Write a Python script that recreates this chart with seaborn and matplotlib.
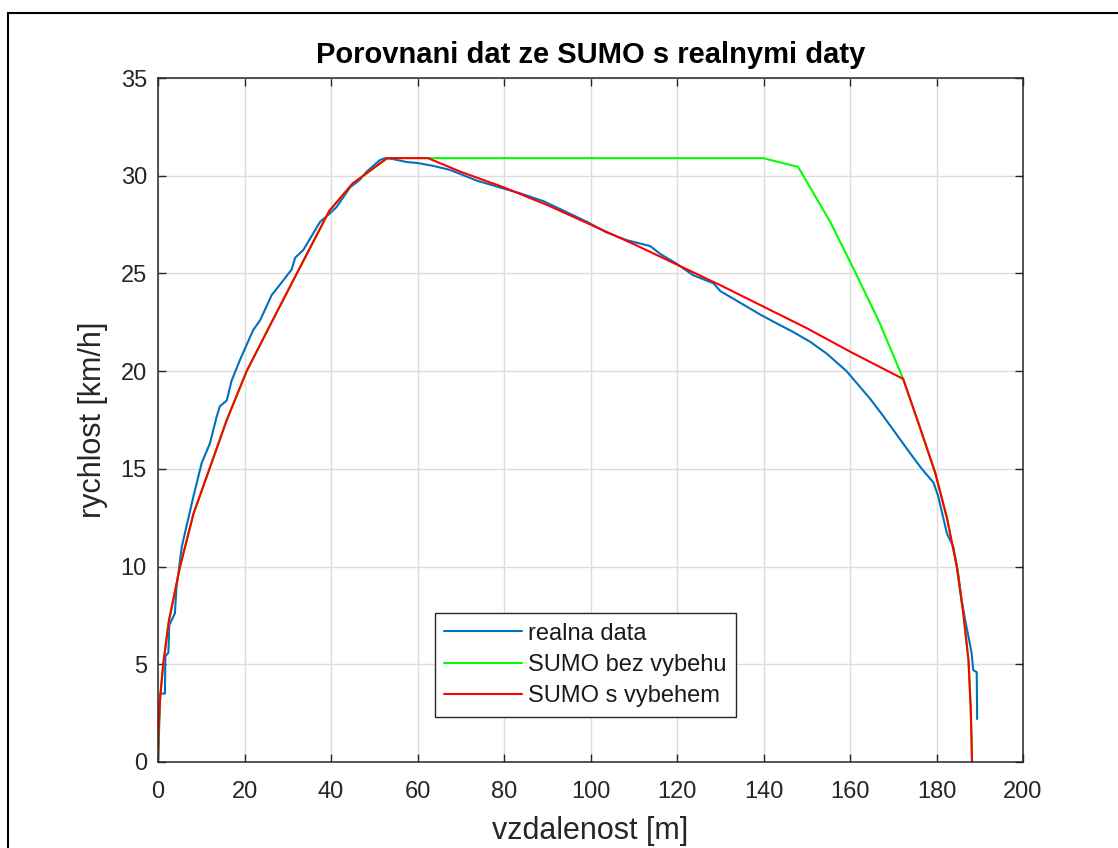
import numpy as np
import pandas as pd
import matplotlib
matplotlib.use("Agg")
import matplotlib.pyplot as plt
from matplotlib.patches import Rectangle
import seaborn as sns

# ---------------- data ----------------
realna_x = [0.0, 0.3, 0.5, 1.6, 1.7, 2.4, 2.6, 3.9, 4.3, 5.5, 5.9, 8.2, 10.1, 12.0, 13.6, 14.3,
            15.9, 17.0, 19.0, 22.0, 23.6, 26.3, 27.4, 30.9, 31.7, 33.6, 37.5, 39.4, 41.3, 44.4,
            46.7, 48.2, 51.3, 52.5, 54.4, 57.5, 60.0, 63.7, 67.5, 73.7, 79.8, 83.7, 89.1, 92.9,
            99.1, 103.7, 108.4, 113.8, 116.1, 119.9, 123.8, 128.4, 130.0, 134.6, 139.2, 143.0,
            146.9, 150.8, 154.6, 159.2, 164.6, 167.7, 173.9, 176.6, 179.3, 180.4, 182.4, 183.9,
            185.0, 185.8, 186.6, 187.4, 188.1, 188.5, 189.3, 189.4]
realna_y = [0.0, 2.0, 3.5, 3.5, 5.4, 5.6, 7.0, 7.6, 9.0, 11.0, 11.4, 13.6, 15.3, 16.3, 17.7, 18.2,
            18.5, 19.5, 20.6, 22.1, 22.6, 23.9, 24.2, 25.2, 25.8, 26.2, 27.65, 28.0, 28.4, 29.4,
            29.8, 30.2, 30.8, 30.9, 30.85, 30.7, 30.65, 30.5, 30.3, 29.75, 29.35, 29.1, 28.7, 28.3,
            27.65, 27.1, 26.7, 26.4, 26.0, 25.5, 24.9, 24.5, 24.1, 23.5, 22.9, 22.45,
            22.0, 21.5, 20.9, 20.0, 18.6, 17.7, 15.8, 15.0, 14.3, 13.6, 11.7, 11.0,
            9.65, 8.3, 7.3, 6.4, 5.6, 4.7, 4.6, 2.2]

bez_x = [0.0, 0.2, 0.5, 1.2, 2.5, 5.1, 8.2, 11.9, 15.9, 20.5, 26.5, 32.1, 39.6, 45.0, 53.0,
         62.4, 80.0, 100.0, 120.0, 139.9, 148.0, 155.4, 160.9, 166.9, 172.3,
         176.2, 179.7, 182.4, 184.7, 186.2, 187.4, 187.9, 188.1, 188.2]
bez_y = [0.0, 2.0, 3.3, 5.0, 7.2, 10.0, 12.7, 15.0, 17.5, 20.0, 22.6, 25.0, 28.2, 29.6, 30.9,
         30.9, 30.9, 30.9, 30.9, 30.9, 30.45, 27.65, 25.2, 22.45, 19.6,
         17.1, 14.8, 12.5, 10.0, 7.6, 5.2, 2.8, 1.2, 0.0]

vyb_x = [0.0, 0.2, 0.5, 1.2, 2.5, 5.1, 8.2, 11.9, 15.9, 20.5, 26.5, 32.1, 39.6, 45.0, 53.0,
         62.4, 70.0, 80.0, 90.0, 100.0, 110.0, 120.0, 130.0, 140.0, 150.0, 160.0, 172.3,
         176.2, 179.7, 182.4, 184.7, 186.2, 187.4, 187.9, 188.1, 188.2]
vyb_y = [0.0, 2.0, 3.3, 5.0, 7.2, 10.0, 12.7, 15.0, 17.5, 20.0, 22.6, 25.0, 28.2, 29.6, 30.9,
         30.9, 30.2, 29.4, 28.5, 27.5, 26.5, 25.45, 24.4, 23.3, 22.2, 21.0, 19.6,
         17.1, 14.8, 12.5, 10.0, 7.6, 5.2, 2.8, 1.2, 0.0]

labels = ["realna data", "SUMO bez vybehu", "SUMO s vybehem"]
colors = ["#0072BD", "#00FF00", "#FF0000"]
x_ticks = [0, 20, 40, 60, 80, 100, 120, 140, 160, 180, 200]
y_ticks = [0, 5, 10, 15, 20, 25, 30, 35]

df = pd.concat([
    pd.DataFrame({"x": realna_x, "y": realna_y, "serie": labels[0]}),
    pd.DataFrame({"x": bez_x, "y": bez_y, "serie": labels[1]}),
    pd.DataFrame({"x": vyb_x, "y": vyb_y, "serie": labels[2]}),
], ignore_index=True)

# ---------------- style ----------------
sns.set_theme(style="whitegrid")
plt.rcParams["font.family"] = ["Liberation Sans", "DejaVu Sans"]
axcol = "#262626"

fig = plt.figure(figsize=(11.18, 8.48), dpi=100)
fig.patch.set_facecolor("white")
ax = fig.add_axes([158 / 1118, 1 - 762 / 848, 865 / 1118, 684 / 848])

sns.lineplot(data=df, x="x", y="y", hue="serie", palette=dict(zip(labels, colors)),
             hue_order=labels, estimator=None, sort=False, linewidth=1.5, ax=ax)

ax.set_xlim(0, 200)
ax.set_ylim(0, 35)
ax.set_xticks(x_ticks)
ax.set_yticks(y_ticks)
ax.grid(True, color="#dcdcdc", linewidth=1.0)
ax.set_axisbelow(True)
for s in ax.spines.values():
    s.set_visible(True)
    s.set_color(axcol)
    s.set_linewidth(1.1)
ax.tick_params(axis="both", which="both", direction="in", length=6, width=1.0,
               colors=axcol, labelsize=17, top=True, right=True,
               bottom=True, left=True)
ax.tick_params(axis="x", pad=14)
ax.tick_params(axis="y", pad=8)

ax.set_title("Porovnani dat ze SUMO s realnymi daty", fontsize=21, fontweight="bold",
             color="black", pad=11)
ax.set_xlabel("vzdalenost [m]", fontsize=22, color=axcol, labelpad=9)
ax.set_ylabel("rychlost [km/h]", fontsize=22, color=axcol, labelpad=9)

leg = ax.legend(loc="lower left", bbox_to_anchor=(0.32, 0.066), fontsize=17,
                frameon=True, fancybox=False, edgecolor=axcol, framealpha=1,
                handlelength=3.3, handletextpad=0.25, labelspacing=0.4,
                borderpad=0.4, borderaxespad=0)
leg.get_frame().set_linewidth(1.0)
for t in leg.get_texts():
    t.set_color("#1a1a1a")

# outer figure border
fig.add_artist(Rectangle((8 / 1118, -0.1), 1.2, (848 - 13) / 848 + 0.1,
                         transform=fig.transFigure, fill=False,
                         edgecolor="black", linewidth=1.5))

fig.savefig("out.png", dpi=100, facecolor="white")
